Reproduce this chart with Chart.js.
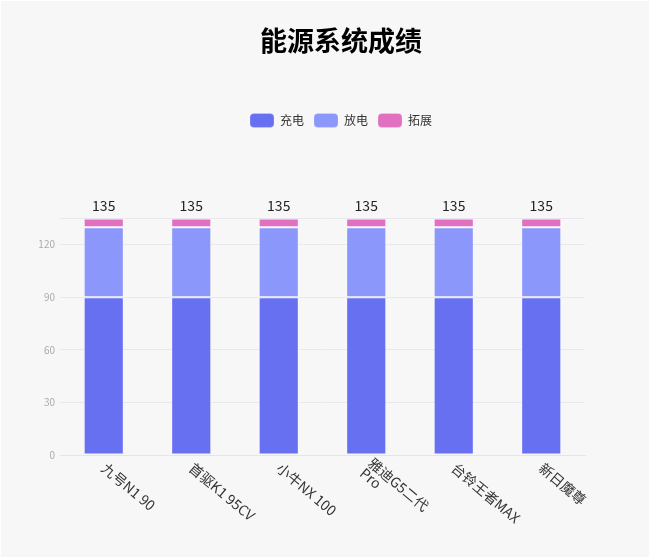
<!DOCTYPE html>
<html>
<head>
<meta charset="utf-8">
<script src="https://cdn.jsdelivr.net/npm/chart.js@4.4.1/dist/chart.umd.min.js"></script>
<style>
html,body{margin:0;padding:0;background:#ffffff;}
#wrap{position:absolute;left:1px;top:1px;width:648px;height:556px;background:#f7f7f7;}
</style>
</head>
<body>
<div id="wrap"><canvas id="c" width="648" height="556"></canvas></div>
<script>
const categories = ['九号N1 90', '首驱K1 95CV', '小牛NX 100', ['雅迪G5二代', 'Pro'], '台铃王者MAX', '新日魔尊'];
const chargeValues = [90, 90, 90, 90, 90, 90];
const dischargeValues = [40, 40, 40, 40, 40, 40];
const extendValues = [5, 5, 5, 5, 5, 5];
const seriesNames = ['充电', '放电', '拓展'];
const yTicks = [0, 30, 60, 90, 120];
const yMax = 135;

const FONT = '"Noto Sans CJK SC", "Noto Sans", sans-serif';

const legendSpace = {
  id: 'legendSpace',
  beforeInit(chart) {
    const orig = chart.legend.fit;
    chart.legend.fit = function () {
      orig.bind(chart.legend)();
      this.height += 81;
    };
  }
};

const extras = {
  id: 'extras',
  afterDatasetsDraw(chart) {
    const ctx = chart.ctx;
    const x = chart.scales.x, y = chart.scales.y;
    ctx.save();
    // totals
    ctx.font = '14px ' + FONT;
    ctx.fillStyle = '#222';
    ctx.textAlign = 'center';
    ctx.textBaseline = 'alphabetic';
    categories.forEach((c, i) => {
      const total = chargeValues[i] + dischargeValues[i] + extendValues[i];
      ctx.fillText(String(total), x.getPixelForValue(i), y.getPixelForValue(total) - 7);
    });
    // rotated x labels
    ctx.font = '14px ' + FONT;
    ctx.fillStyle = '#333';
    ctx.textAlign = 'left';
    ctx.textBaseline = 'middle';
    const lh = 13;
    categories.forEach((c, i) => {
      const lines = Array.isArray(c) ? c : [c];
      const px = x.getPixelForValue(i);
      const py = chart.chartArea.bottom + 11;
      ctx.save();
      ctx.translate(px, py);
      ctx.rotate(40 * Math.PI / 180);
      const off = -(lines.length - 1) * lh / 2;
      lines.forEach((t, k) => ctx.fillText(t, 0, off + k * lh));
      ctx.restore();
    });
    ctx.restore();
  }
};

const edge = 'rgba(255,255,255,0.2)';

new Chart(document.getElementById('c'), {
  type: 'bar',
  data: {
    labels: categories,
    datasets: [
      { label: seriesNames[0], data: chargeValues, backgroundColor: '#6870f2', borderColor: edge, borderWidth: 1, borderSkipped: false },
      { label: seriesNames[1], data: dischargeValues, backgroundColor: '#8c97fc', borderColor: edge, borderWidth: 1, borderSkipped: false },
      { label: seriesNames[2], data: extendValues, backgroundColor: '#e170c1', borderColor: edge, borderWidth: 1, borderSkipped: false }
    ]
  },
  options: {
    responsive: false,
    animation: false,
    layout: { padding: { left: 32, right: 0, bottom: 94, top: 0 } },
    datasets: { bar: { categoryPercentage: 0.9, barPercentage: 0.51 } },
    plugins: {
      title: {
        display: true,
        text: '能源系统成绩',
        color: '#000',
        font: { family: FONT, size: 27, weight: 'bold' },
        padding: { top: 24, bottom: 46 }
      },
      legend: {
        display: true,
        labels: {
          color: '#333',
          font: { family: FONT, size: 12 },
          boxWidth: 24,
          boxHeight: 14,
          padding: 10,
          useBorderRadius: true,
          borderRadius: 4
        }
      },
      tooltip: { enabled: false }
    },
    scales: {
      x: {
        stacked: true,
        grid: { display: false },
        border: { display: true, color: '#e4e4ea' },
        ticks: { display: false }
      },
      y: {
        stacked: true,
        min: 0,
        max: yMax,
        afterFit(scale) { scale.width = 27; },
        afterBuildTicks(scale) {
          scale.ticks = yTicks.map(v => ({ value: v })).concat([{ value: yMax }]);
        },
        grid: { color: '#e8e8ee', drawTicks: false },
        border: { display: false },
        ticks: {
          color: '#aaa',
          font: { family: FONT, size: 10 },
          padding: 5,
          callback: v => (yTicks.includes(v) ? v : '')
        }
      },
      yRight: {
        position: 'right',
        display: true,
        afterFit(scale) { scale.width = 64; },
        grid: { display: false, drawTicks: false },
        border: { display: false },
        ticks: { display: false }
      }
    }
  },
  plugins: [legendSpace, extras]
});
</script>
</body>
</html>
